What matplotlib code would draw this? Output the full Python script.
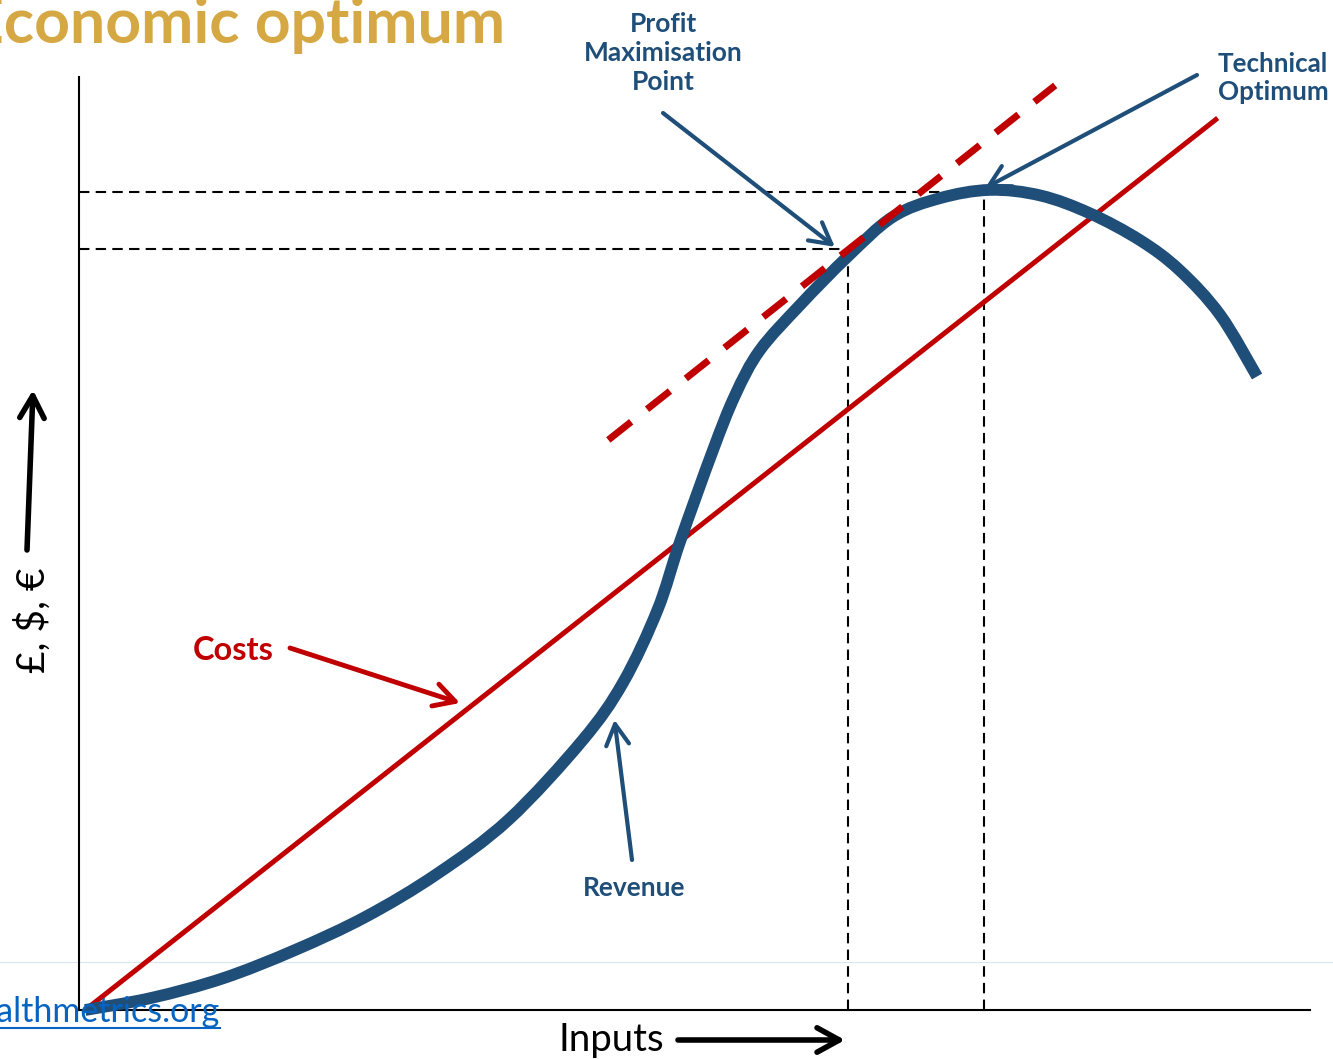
import matplotlib
matplotlib.use('Agg')
from matplotlib import pyplot as plt
from matplotlib.lines import Line2D
from matplotlib.path import Path
from matplotlib.patches import PathPatch

plt.rcParams['font.family'] = ['Lato', 'DejaVu Sans']

W, H = 1333, 1059

NAVY = '#1F4E79'
RED = '#C00000'
GOLD = '#D6A843'
LINK = '#0563C1'

# revenue curve: inputs vs money (both on a 0-100 scale)
inputs = [0.5, 5.9, 11.7, 17.5, 23.3, 29.1, 34.9, 40.9, 44.2, 47.0, 48.8, 51.5,
          53.3, 55.3, 58.6, 62.4, 66.1, 69.9, 74.0, 78.1, 82.1, 86.2, 89.4, 92.7, 95.7]
revenue = [0.0, 1.3, 3.4, 6.4, 10.0, 14.6, 20.4, 28.9, 35.1, 42.9, 50.1, 60.0,
           65.9, 70.7, 75.6, 80.7, 85.0, 87.0, 87.9, 87.3, 85.4, 82.5, 79.3, 74.5, 67.9]

# linear cost line
cost_inputs = [0.5, 92.5]
costs = [0.0, 95.6]

# tangent at the profit maximisation point
tangent_inputs = [43.0, 79.3]
tangent_values = [61.1, 99.1]

profit_max = (62.5, 81.6)
tech_opt = (73.5, 87.7)


def px(x, y):
    """top-left pixel position -> figure fraction"""
    return x / W, 1 - y / H


def smooth_path(xs, ys):
    """Catmull-Rom spline through the points, as cubic bezier segments"""
    pts = list(zip(xs, ys))
    ext = [pts[0]] + pts + [pts[-1]]
    verts = [pts[0]]
    codes = [Path.MOVETO]
    for i in range(1, len(ext) - 2):
        p0, p1, p2, p3 = ext[i - 1], ext[i], ext[i + 1], ext[i + 2]
        c1 = (p1[0] + (p2[0] - p0[0]) / 6, p1[1] + (p2[1] - p0[1]) / 6)
        c2 = (p2[0] - (p3[0] - p1[0]) / 6, p2[1] - (p3[1] - p1[1]) / 6)
        verts += [c1, c2, p2]
        codes += [Path.CURVE4] * 3
    return Path(verts, codes)


fig = plt.figure(figsize=(W / 100, H / 100), dpi=100)

# faint rule across the page
fig.add_artist(Line2D([0, 1], [1 - 962 / H] * 2, color='#DAE5F1', lw=0.8,
                      transform=fig.transFigure, zorder=0))

ax = fig.add_axes([79 / W, 1 - 1010 / H, 1231 / W, 933 / H])
ax.set_xlim(0, 100)
ax.set_ylim(0, 100)
ax.patch.set_alpha(0)
for side in ('top', 'right'):
    ax.spines[side].set_visible(False)
for side in ('left', 'bottom'):
    ax.spines[side].set_linewidth(1.5)
ax.set_xticks([])
ax.set_yticks([])

# guide lines to the two optimum points
dash = (0, (5, 3))
for (x, y) in (profit_max, tech_opt):
    ax.plot([0, x], [y, y], color='black', lw=1.5, linestyle=dash, zorder=2)
    ax.plot([x, x], [0, y], color='black', lw=1.5, linestyle=dash, zorder=2)

ax.plot(cost_inputs, costs, color=RED, lw=3.6, solid_capstyle='butt', clip_on=False, zorder=3)
ax.add_patch(PathPatch(smooth_path(inputs, revenue), facecolor='none', edgecolor=NAVY,
                       lw=8.5, capstyle='butt', joinstyle='round', clip_on=False, zorder=4))
ax.plot(tangent_inputs, tangent_values, color=RED, lw=5, linestyle=(0, (4.2, 2.92)),
        clip_on=False, zorder=5)


def arrow(tip, start, color, lw=3, coords='data', scale=15):
    ax.annotate('', xy=tip, xycoords=coords, xytext=px(*start),
                textcoords='figure fraction',
                arrowprops=dict(arrowstyle='->,head_length=1.0,head_width=0.55',
                                color=color, lw=lw, shrinkA=0, shrinkB=0,
                                mutation_scale=scale),
                annotation_clip=False, zorder=6)


arrow((61.4, 81.8), (663, 113), NAVY)
arrow((73.6, 88.1), (1197, 75), NAVY)
arrow((30.95, 32.9), (290, 648), RED, lw=3.5)
arrow((43.5, 31.1), (632, 860), NAVY)
arrow(px(33, 390), (27, 550), 'black', lw=4, coords='figure fraction', scale=16)
arrow(px(845, 1040), (678, 1040), 'black', lw=4, coords='figure fraction', scale=16)

# labels
fig.text(*px(505, 43), 'Economic optimum', color=GOLD, fontsize=45, fontweight='bold',
         ha='right', va='baseline')
fig.text(*px(663, 53), 'Profit\nMaximisation\nPoint', color=NAVY, fontsize=19,
         fontweight='bold', ha='center', va='center', linespacing=1.25)
fig.text(*px(1273, 78), 'Technical\nOptimum', color=NAVY, fontsize=18.7,
         fontweight='bold', ha='center', va='center', linespacing=1.25)
fig.text(*px(233, 650), 'Costs', color=RED, fontsize=23.4, fontweight='bold',
         ha='center', va='center')
fig.text(*px(634, 888), 'Revenue', color=NAVY, fontsize=19, fontweight='bold',
         ha='center', va='center')
fig.text(*px(33, 620), '£, $, €', color='black', fontsize=28, rotation=90,
         ha='center', va='center')
fig.text(*px(611, 1040), 'Inputs', color='black', fontsize=27.6, ha='center', va='center')

# site link, underlined
fig.text(*px(220, 1022), 'www.healthmetrics.org', color=LINK, fontsize=24.5,
         ha='right', va='baseline', zorder=1)
fig.add_artist(Line2D([0, 220 / W], [1 - 1028 / H] * 2, color=LINK, lw=1.5,
                      transform=fig.transFigure, zorder=1))

fig.savefig('out.png', dpi=100)
